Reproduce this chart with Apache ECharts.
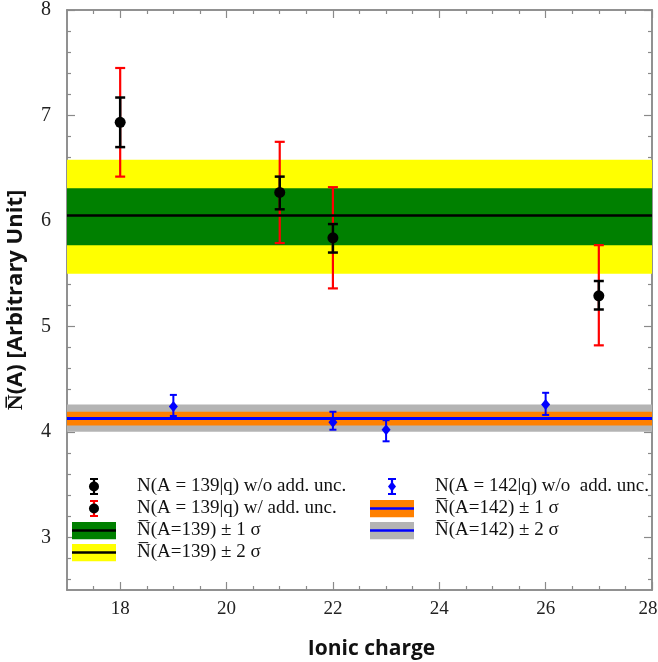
<!DOCTYPE html>
<html>
<head>
<meta charset="utf-8">
<script src="https://cdn.jsdelivr.net/npm/echarts@6/dist/echarts.min.js"></script>
<style>
  html, body { margin: 0; padding: 0; background: #fff; }
  #chart { width: 658px; height: 662px; }
</style>
</head>
<body>
<div id="chart"></div>
<script>
// axis ranges and ticks
const xMin = 17, xMax = 28;
const yMin = 2.5, yMax = 8;
const xMajorTicks = [18, 20, 22, 24, 26, 28];
const xMinorTicks = [17.5, 18.5, 19, 19.5, 20.5, 21, 21.5, 22.5, 23, 23.5, 24.5, 25, 25.5, 26.5, 27, 27.5];
const yMajorTicks = [3, 4, 5, 6, 7, 8];
const yMinorTicks = [2.6, 2.8, 3.2, 3.4, 3.6, 3.8, 4.2, 4.4, 4.6, 4.8, 5.2, 5.4, 5.6, 5.8,
  6.2, 6.4, 6.6, 6.8, 7.2, 7.4, 7.6, 7.8];

// A = 139
const charges139 = [18, 21, 22, 27];
const values139 = [6.935, 6.27, 5.84, 5.29];
const statLo139 = [6.70, 6.11, 5.70, 5.16];
const statHi139 = [7.17, 6.42, 5.97, 5.43];
const totLo139 = [6.42, 5.79, 5.36, 4.82];
const totHi139 = [7.45, 6.75, 6.32, 5.77];
const avg139 = 6.05;
const sigma1Band139 = [5.77, 6.31];
const sigma2Band139 = [5.50, 6.58];

// A = 142
const charges142 = [19, 22, 23, 26];
const values142 = [4.24, 4.09, 4.02, 4.26];
const lo142 = [4.15, 4.02, 3.91, 4.16];
const hi142 = [4.35, 4.19, 4.11, 4.37];
const avg142 = 4.13;
const sigma1Band142 = [4.06, 4.19];
const sigma2Band142 = [4.00, 4.26];

const names = {
  stat139: 'N(A = 139|q) w/o add. unc.',
  tot139: 'N(A = 139|q) w/ add. unc.',
  s1_139: 'N\u0305(A=139) \u00b1 1 \u03c3',
  s2_139: 'N\u0305(A=139) \u00b1 2 \u03c3',
  stat142: 'N(A = 142|q) w/o  add. unc.',
  s1_142: 'N\u0305(A=142) \u00b1 1 \u03c3',
  s2_142: 'N\u0305(A=142) \u00b1 2 \u03c3'
};

const frameColor = '#8a8a8a';
const serif = 'Liberation Serif';

function svgIcon(inner) {
  const svg = '<svg xmlns="http://www.w3.org/2000/svg" width="60" height="18" viewBox="0 0 60 18">' + inner + '</svg>';
  return 'image://data:image/svg+xml;charset=utf-8,' + encodeURIComponent(svg);
}

function barIcon(color, capColor, marker) {
  return svgIcon(
    '<line x1="22" y1="1" x2="22" y2="17" stroke="' + color + '" stroke-width="2.2"/>' +
    '<line x1="18" y1="1.5" x2="26" y2="1.5" stroke="' + capColor + '" stroke-width="2"/>' +
    '<line x1="18" y1="16.5" x2="26" y2="16.5" stroke="' + capColor + '" stroke-width="2"/>' +
    marker
  );
}

function bandIcon(fill, lineColor) {
  return svgIcon(
    '<rect x="0" y="0" width="44" height="18" fill="' + fill + '"/>' +
    '<line x1="0" y1="9" x2="44" y2="9" stroke="' + lineColor + '" stroke-width="2.5"/>'
  );
}

const dot = '<circle cx="22" cy="9" r="5" fill="#000"/>';
const diamond = '<path d="M22 4 L26 9 L22 14 L18 9 Z" fill="#0000ff"/>';

function errorBar(capHalf, color, width) {
  return function (params, api) {
    const x = api.value(0);
    const lo = api.coord([x, api.value(1)]);
    const hi = api.coord([x, api.value(2)]);
    const style = { stroke: color, lineWidth: width };
    return {
      type: 'group',
      children: [
        { type: 'line', shape: { x1: lo[0], y1: lo[1], x2: hi[0], y2: hi[1] }, style: style },
        { type: 'line', shape: { x1: lo[0] - capHalf, y1: lo[1], x2: lo[0] + capHalf, y2: lo[1] }, style: style },
        { type: 'line', shape: { x1: hi[0] - capHalf, y1: hi[1], x2: hi[0] + capHalf, y2: hi[1] }, style: style }
      ]
    };
  };
}

function band(name, range, color, z) {
  return {
    name: name,
    type: 'line',
    data: [],
    z: z,
    markArea: {
      silent: true,
      itemStyle: { color: color },
      data: [[{ yAxis: range[0] }, { yAxis: range[1] }]]
    }
  };
}

function meanLine(name, value, color, width, z) {
  return {
    name: name,
    type: 'line',
    data: [],
    z: z,
    markLine: {
      silent: true,
      symbol: 'none',
      label: { show: false },
      lineStyle: { color: color, width: width, type: 'solid' },
      data: [{ yAxis: value }]
    }
  };
}

function xAxisCfg(pos, ticks, len, extra) {
  return Object.assign({
    type: 'value', min: xMin, max: xMax, position: pos,
    axisLine: { show: true, onZero: false, lineStyle: { color: frameColor, width: 1.5 } },
    axisTick: { show: true, inside: true, length: len, customValues: ticks, lineStyle: { color: frameColor, width: 1.2 } },
    axisLabel: { show: false },
    splitLine: { show: false }
  }, extra || {});
}

function yAxisCfg(pos, ticks, len, extra) {
  return Object.assign({
    type: 'value', min: yMin, max: yMax, position: pos,
    axisLine: { show: true, onZero: false, lineStyle: { color: frameColor, width: 1.5 } },
    axisTick: { show: true, inside: true, length: len, customValues: ticks, lineStyle: { color: frameColor, width: 1.2 } },
    axisLabel: { show: false },
    splitLine: { show: false }
  }, extra || {});
}

const legendText = { fontFamily: serif, fontSize: 19, color: '#111' };

const chart = echarts.init(document.getElementById('chart'));

chart.setOption({
  animation: false,
  grid: { left: 67, right: 6, top: 10, bottom: 72, outerBoundsMode: 'none' },
  legend: [
    {
      orient: 'vertical', left: 72, top: 477, padding: 0,
      itemWidth: 60, itemHeight: 18, itemGap: 3,
      selectedMode: false,
      textStyle: legendText,
      data: [
        { name: names.stat139, icon: barIcon('#000', '#000', dot) },
        { name: names.tot139, icon: barIcon('#ff0000', '#ff0000', dot) },
        { name: names.s1_139, icon: bandIcon('#008000', '#000') },
        { name: names.s2_139, icon: bandIcon('#ffff00', '#000') }
      ]
    },
    {
      orient: 'vertical', left: 370, top: 477, padding: 0,
      itemWidth: 60, itemHeight: 18, itemGap: 3,
      selectedMode: false,
      textStyle: legendText,
      data: [
        { name: names.stat142, icon: barIcon('#0000ff', '#0000ff', diamond) },
        { name: names.s1_142, icon: bandIcon('#ff8000', '#0000ff') },
        { name: names.s2_142, icon: bandIcon('#b4b4b4', '#0000ff') }
      ]
    }
  ],
  xAxis: [
    xAxisCfg('bottom', xMajorTicks, 8, {
      axisLabel: {
        show: true, customValues: xMajorTicks, fontFamily: serif, fontSize: 19, color: '#222', margin: 10,
        formatter: function (v) { return v === xMax ? '{edge|' + v + '}' : String(v); },
        rich: { edge: { fontFamily: serif, fontSize: 19, color: '#222', padding: [0, 8, 0, 0] } }
      },
      name: 'Ionic charge', nameLocation: 'middle', nameGap: 49,
      nameTextStyle: { fontFamily: 'Open Sans', fontWeight: 'bold', fontSize: 21, color: '#111', padding: [0, 0, 0, 24] }
    }),
    xAxisCfg('bottom', xMinorTicks, 4),
    xAxisCfg('top', xMajorTicks, 8),
    xAxisCfg('top', xMinorTicks, 4)
  ],
  yAxis: [
    yAxisCfg('left', yMajorTicks, 8, {
      axisLabel: { show: true, customValues: yMajorTicks, fontFamily: serif, fontSize: 20, color: '#222', margin: 16 },
      name: 'N\u0305(A) [Arbitrary Unit]', nameLocation: 'middle', nameGap: 40,
      nameTextStyle: { fontFamily: 'Open Sans', fontWeight: 'bold', fontSize: 22, color: '#111' }
    }),
    yAxisCfg('left', yMinorTicks, 4),
    yAxisCfg('right', yMajorTicks, 8),
    yAxisCfg('right', yMinorTicks, 4)
  ],
  series: [
    band(names.s2_139, sigma2Band139, '#ffff00', 1),
    band(names.s1_139, sigma1Band139, '#008000', 2),
    meanLine('mean139', avg139, '#000', 2.5, 3),
    band(names.s2_142, sigma2Band142, '#b4b4b4', 1),
    band(names.s1_142, sigma1Band142, '#ff8000', 2),
    meanLine('mean142', avg142, '#0000ff', 3, 3),
    {
      name: names.tot139,
      type: 'custom',
      z: 4,
      renderItem: errorBar(5, '#ff0000', 2.2),
      encode: { x: 0, y: [1, 2] },
      data: charges139.map((c, i) => [c, totLo139[i], totHi139[i]])
    },
    {
      name: names.stat139,
      type: 'custom',
      z: 5,
      renderItem: errorBar(5, '#000', 2.5),
      encode: { x: 0, y: [1, 2] },
      data: charges139.map((c, i) => [c, statLo139[i], statHi139[i]])
    },
    {
      name: names.stat139,
      type: 'scatter',
      z: 6,
      symbol: 'circle',
      symbolSize: 11,
      itemStyle: { color: '#000', opacity: 1 },
      data: charges139.map((c, i) => [c, values139[i]])
    },
    {
      name: names.stat142,
      type: 'custom',
      z: 5,
      renderItem: errorBar(3.5, '#0000ff', 2),
      encode: { x: 0, y: [1, 2] },
      data: charges142.map((c, i) => [c, lo142[i], hi142[i]])
    },
    {
      name: names.stat142,
      type: 'scatter',
      z: 6,
      symbol: 'diamond',
      symbolSize: [9, 11],
      itemStyle: { color: '#0000ff', opacity: 1 },
      data: charges142.map((c, i) => [c, values142[i]])
    }
  ]
});
</script>
</body>
</html>
